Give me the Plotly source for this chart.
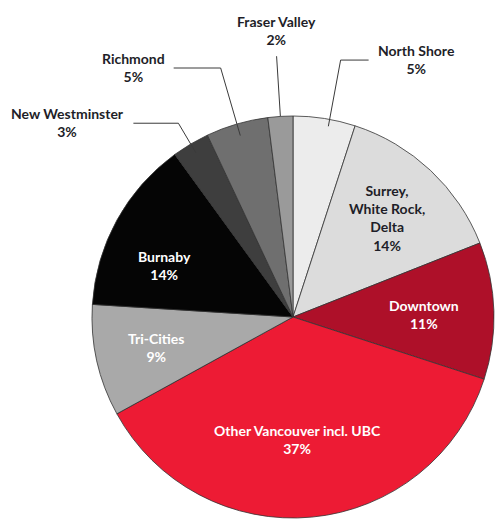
import math
import plotly.graph_objects as go

# Share of respondents by home region (percent)
regions = ["North Shore", "Surrey, White Rock, Delta", "Downtown",
           "Other Vancouver incl. UBC", "Tri-Cities", "Burnaby",
           "New Westminster", "Richmond", "Fraser Valley"]
label_text = ["North Shore", "Surrey,<br>White Rock,<br>Delta", "Downtown",
              "Other Vancouver incl. UBC", "Tri-Cities", "Burnaby",
              "New Westminster", "Richmond", "Fraser Valley"]
shares = [5, 14, 11, 37, 9, 14, 3, 5, 2]
colors = ["#ececec", "#dcdcdc", "#ae1029", "#ed1b34", "#a9a9a9",
          "#050505", "#3e3e3e", "#6f6f6f", "#9a9a9a"]

W, H = 495, 519
# pie domain in pixels (left, top, size)
PX0, PY0, SIZE = 92, 116, 402
cx, cy, R = PX0 + SIZE / 2, PY0 + SIZE / 2, SIZE / 2

# label styling: inside labels (radius factor, angle nudge, text colour)
inside_style = {
    "Surrey, White Rock, Delta": (0.68, 0.3, "#1e1e28"),
    "Downtown": (0.65, 0.9, "#ffffff"),
    "Other Vancouver incl. UBC": (0.61, 3.1, "#ffffff"),
    "Tri-Cities": (0.70, 0.0, "#ffffff"),
    "Burnaby": (0.69, -7.0, "#ffffff"),
}
# callout labels: (inner radius, elbow radius, horizontal run px, angle nudge)
callout_style = {
    "North Shore": (0.965, 1.30, 28, 1.5),
    "Richmond": (0.94, 1.29, -47, 0.0),
    "New Westminster": (0.95, 1.12, -45, 0.0),
    "Fraser Valley": (1.00, 1.30, 0, 0.0),
}

def to_paper(px, py):
    return px / W, 1 - py / H

def polar(angle_deg, r):
    a = math.radians(angle_deg)
    return cx + r * math.sin(a), cy - r * math.cos(a)

fig = go.Figure(go.Pie(
    labels=regions, values=shares, sort=False, direction="clockwise",
    rotation=0, marker=dict(colors=colors, line=dict(color="#333333", width=0.8)),
    textinfo="none", hoverinfo="label+percent", showlegend=False,
    domain=dict(x=[PX0 / W, (PX0 + SIZE) / W],
                y=[1 - (PY0 + SIZE) / H, 1 - PY0 / H]),
))

total = sum(shares)
annotations, shapes = [], []
cum = 0
font_base = dict(family="Lato", size=14)
for name, txt, v in zip(regions, label_text, shares):
    mid = (cum + v / 2) / total * 360
    cum += v
    pct = f"{v}%"
    if name in inside_style:
        rf, nudge, col = inside_style[name]
        px, py = polar(mid + nudge, rf * R)
        x, y = to_paper(px, py)
        annotations.append(dict(
            x=x, y=y, xref="paper", yref="paper", showarrow=False,
            text=f"<b>{txt}<br>{pct}</b>", align="center",
            xanchor="center", yanchor="middle",
            font=dict(color=col, **font_base)))
    else:
        r_in, r_el, run, nudge = callout_style[name]
        x0, y0 = polar(mid + nudge, r_in * R)
        x1, y1 = polar(mid + nudge, r_el * R)
        x2, y2 = x1 + run, y1
        p = [to_paper(*q) for q in [(x0, y0), (x1, y1), (x2, y2)]]
        path = f"M {p[0][0]},{p[0][1]} L {p[1][0]},{p[1][1]} L {p[2][0]},{p[2][1]}"
        shapes.append(dict(type="path", xref="paper", yref="paper", path=path,
                           line=dict(color="#3a3a3a", width=1)))
        if run > 0:
            tx, ty, xa, ya = x2 + 7, y2 - 1, "left", "middle"
        elif run < 0:
            tx, ty, xa, ya = x2 - 7, y2 - 1, "right", "middle"
        else:
            tx, ty, xa, ya = x2, y2 - 6, "center", "bottom"
        x, y = to_paper(tx, ty)
        annotations.append(dict(
            x=x, y=y, xref="paper", yref="paper", showarrow=False,
            text=f"<b>{txt}<br>{pct}</b>", align="center",
            xanchor=xa, yanchor=ya,
            font=dict(color="#1e1e28", **font_base)))

fig.update_layout(
    width=W, height=H, margin=dict(l=0, r=0, t=0, b=0),
    paper_bgcolor="white", plot_bgcolor="white",
    annotations=annotations, shapes=shapes,
)

fig.write_html("out.html")
